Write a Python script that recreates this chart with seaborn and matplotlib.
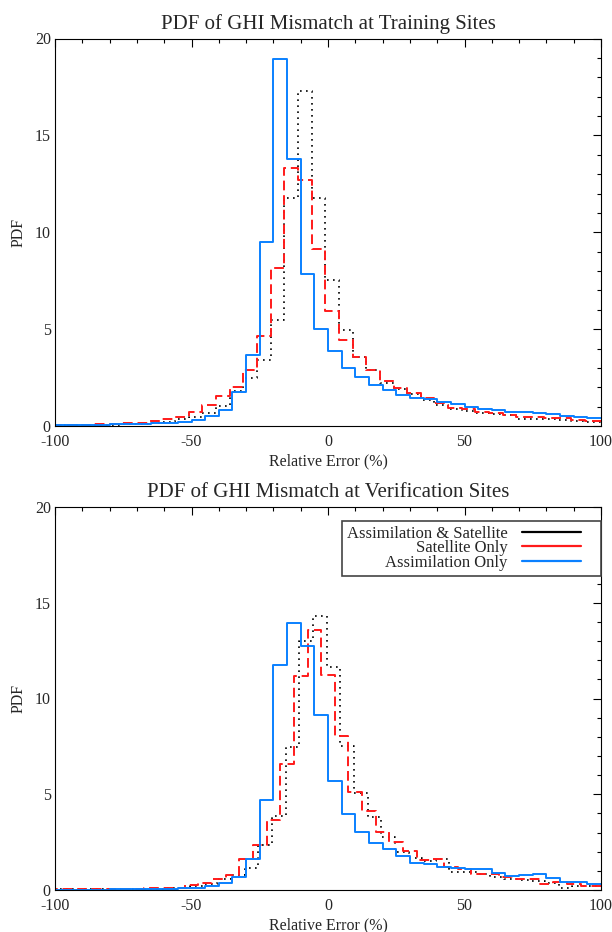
import numpy as np
import pandas as pd
import matplotlib
matplotlib.use("Agg")
import matplotlib.pyplot as plt
import seaborn as sns
from matplotlib.lines import Line2D
from matplotlib.legend_handler import HandlerLine2D
from matplotlib.ticker import MultipleLocator

sns.set_theme(style="white")
plt.rcParams['font.family'] = ['Liberation Serif', 'DejaVu Serif']
plt.rcParams['axes.unicode_minus'] = False

# ---------------- data (bin width 5 %, left edge of first bin + PDF values) ----------------
BIN_WIDTH = 5.0

series_labels = ["Assimilation & Satellite", "Satellite Only", "Assimilation Only"]
titles = ["PDF of GHI Mismatch at Training Sites", "PDF of GHI Mismatch at Verification Sites"]

# Training sites
train_both_start = -101.0
train_both = [0.03, 0.04, 0.05, 0.06, 0.07, 0.09, 0.12, 0.15, 0.22, 0.36,
              0.48, 0.69, 1.03, 1.8, 2.46, 3.4, 5.46, 11.77, 17.3, 11.77,
              7.53, 4.98, 3.54, 2.89, 2.22, 1.89, 1.65, 1.34, 1.08, 0.86,
              0.76, 0.69, 0.62, 0.57, 0.36, 0.36, 0.36, 0.31, 0.28, 0.22, 0.2]
train_sat_start = -101.0
train_sat = [0.05, 0.06, 0.07, 0.09, 0.11, 0.14, 0.17, 0.27, 0.36, 0.48,
             0.74, 1.1, 1.55, 2.03, 2.89, 4.64, 8.13, 13.33, 12.7, 9.16,
             5.94, 4.43, 3.57, 2.9, 2.3, 1.97, 1.68, 1.43, 1.2, 0.91,
             0.86, 0.74, 0.65, 0.57, 0.48, 0.48, 0.4, 0.4, 0.31, 0.26, 0.25]
train_assim_start = -100.0
train_assim = [0.03, 0.05, 0.05, 0.06, 0.08, 0.09, 0.12, 0.13, 0.18, 0.22,
               0.33, 0.53, 0.84, 1.78, 3.66, 9.5, 18.95, 13.8, 7.87, 5.03,
               3.85, 2.97, 2.54, 2.12, 1.85, 1.6, 1.46, 1.37, 1.25, 1.12,
               1.0, 0.89, 0.82, 0.74, 0.7, 0.65, 0.6, 0.52, 0.45, 0.4]

# Verification sites
verif_both_start = -100.5
verif_both = [0.04, 0.04, 0.05, 0.05, 0.05, 0.06, 0.06, 0.07, 0.1, 0.12,
              0.2, 0.3, 0.55, 0.8, 1.13, 2.35, 3.86, 7.48, 13.0, 14.3,
              11.63, 7.52, 5.05, 3.83, 2.78, 2.0, 1.65, 1.53, 1.6, 0.96,
              0.96, 0.84, 0.7, 0.56, 0.52, 0.48, 0.35, 0.12, 0.22, 0.2, 0.2]
verif_sat_start = -102.5
verif_sat = [0.03, 0.03, 0.03, 0.03, 0.04, 0.05, 0.07, 0.08, 0.1, 0.13,
             0.26, 0.35, 0.6, 0.78, 1.6, 2.35, 3.65, 6.6, 11.17, 13.58,
             11.23, 8.04, 5.13, 4.14, 3.05, 2.5, 2.05, 1.55, 1.6, 1.22,
             1.1, 0.84, 0.84, 0.7, 0.57, 0.57, 0.31, 0.4, 0.3, 0.22, 0.22]
verif_assim_start = -100.0
verif_assim = [0.02, 0.02, 0.02, 0.02, 0.03, 0.03, 0.03, 0.04, 0.05, 0.1,
               0.13, 0.22, 0.38, 0.7, 1.62, 4.7, 11.75, 13.96, 12.74, 9.14,
               5.71, 3.97, 3.05, 2.44, 2.12, 1.8, 1.43, 1.34, 1.22, 1.17,
               1.08, 1.08, 0.9, 0.75, 0.78, 0.84, 0.63, 0.4, 0.43, 0.3]

x_range = (-100, 100)
y_range = (0, 20)

# ---------------- styling ----------------
COLORS = ["black", "#ff1a1a", "#0a80ff"]
STYLES = [(0, (1.0, 2.6)), (0, (5, 2.5)), "-"]
WIDTHS = [1.2, 1.4, 1.4]

fig = plt.figure(figsize=(6.12, 9.32), dpi=100)
ax_top = fig.add_axes([55 / 612, 1 - 426 / 932, 546 / 612, 387.5 / 932])
ax_bot = fig.add_axes([55 / 612, 1 - 890 / 932, 546 / 612, 383 / 932])


def draw_hist(ax, start, values, color, ls, lw):
    vals = [float(v) for v in values]
    edges = [start + BIN_WIDTH * i for i in range(len(vals) + 1)]
    df = pd.DataFrame({"center": [e + BIN_WIDTH / 2 for e in edges[:-1]],
                       "pdf": vals})
    sns.histplot(data=df, x="center", weights="pdf", bins=edges, element="step",
                 fill=False, color=color, linestyle=ls, linewidth=lw, ax=ax)


panels = [
    (ax_top, titles[0], [(train_both_start, train_both), (train_sat_start, train_sat),
                         (train_assim_start, train_assim)]),
    (ax_bot, titles[1], [(verif_both_start, verif_both), (verif_sat_start, verif_sat),
                         (verif_assim_start, verif_assim)]),
]

FS = 11.5
for ax, title, series in panels:
    for (start, vals), c, ls, lw in zip(series, COLORS, STYLES, WIDTHS):
        draw_hist(ax, start, vals, c, ls, lw)
    ax.set_xlim(*x_range)
    ax.set_ylim(*y_range)
    ax.set_title(title, fontsize=15, pad=7)
    ax.set_xlabel("Relative Error (%)", fontsize=FS, labelpad=2)
    ax.set_ylabel("PDF", fontsize=FS, labelpad=6)
    ax.xaxis.set_major_locator(MultipleLocator(50))
    ax.xaxis.set_minor_locator(MultipleLocator(10))
    ax.yaxis.set_major_locator(MultipleLocator(5))
    ax.yaxis.set_minor_locator(MultipleLocator(1))
    ax.tick_params(which="both", direction="in", top=True, right=True,
                   color="black", width=0.8, labelsize=FS)
    ax.tick_params(which="major", length=5.5, pad=6)
    ax.tick_params(which="minor", length=3)
    ax.tick_params(axis="y", which="major", pad=3)
    for s in ax.spines.values():
        s.set_color("black")
        s.set_linewidth(0.8)
    ax.set_facecolor("white")


class ShortLineHandler(HandlerLine2D):
    """Legend line sample that leaves blank space on its right side."""
    def create_artists(self, legend, orig_handle, xdescent, ydescent,
                       width, height, fontsize, trans):
        return super().create_artists(legend, orig_handle, xdescent, ydescent,
                                      width - 11.0, height, fontsize, trans)


LEG_FS = 12
handles = [Line2D([], [], color=c, lw=1.6) for c in COLORS]
leg = ax_bot.legend(handles, series_labels, loc="upper right",
                    bbox_to_anchor=(1.0, 1 - 13.5 / 383), markerfirst=False,
                    fontsize=LEG_FS, frameon=True, fancybox=False, framealpha=1,
                    handlelength=4.45, handletextpad=0.85, labelspacing=-0.08,
                    borderpad=0.3, borderaxespad=0.0,
                    handler_map={Line2D: ShortLineHandler()})
leg.get_frame().set_edgecolor("#444444")
leg.get_frame().set_linewidth(1.2)

fig.savefig("out.png", dpi=100, facecolor="white")
